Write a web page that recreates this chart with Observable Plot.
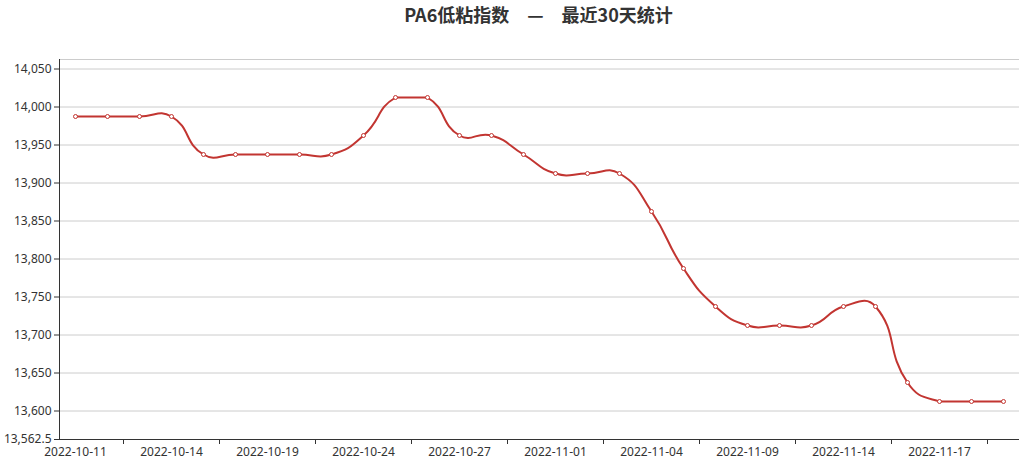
<!DOCTYPE html>
<html>
<head>
<meta charset="utf-8">
<script src="https://cdn.jsdelivr.net/npm/d3@7"></script>
<script src="https://cdn.jsdelivr.net/npm/@observablehq/plot@0.6"></script>
<style>
  html, body { margin: 0; padding: 0; background: #fff; }
  #wrap { position: relative; width: 1023px; height: 469px; }
  #title {
    position: absolute; top: 5px; left: 538.5px; transform: translateX(-50%);
    font-family: "Noto Sans CJK SC", "Noto Sans", sans-serif; font-weight: bold;
    font-size: 18px; line-height: 18px; color: #333; white-space: pre;
  }
</style>
</head>
<body>
<div id="wrap">
  <div id="chart"></div>
  <div id="title">PA6低粘指数　—　最近30天统计</div>
</div>
<script>
const dates = [
  "2022-10-11","2022-10-12","2022-10-13","2022-10-14","2022-10-17","2022-10-18",
  "2022-10-19","2022-10-20","2022-10-21","2022-10-24","2022-10-25","2022-10-26",
  "2022-10-27","2022-10-28","2022-10-31","2022-11-01","2022-11-02","2022-11-03",
  "2022-11-04","2022-11-07","2022-11-08","2022-11-09","2022-11-10","2022-11-11",
  "2022-11-14","2022-11-15","2022-11-16","2022-11-17","2022-11-18","2022-11-21"
];
const values = [
  13987.5, 13987.5, 13987.5, 13987.5, 13937.5, 13937.5,
  13937.5, 13937.5, 13937.5, 13962.5, 14012.5, 14012.5,
  13962.5, 13962.5, 13937.5, 13912.5, 13912.5, 13912.5,
  13862.5, 13787.5, 13737.5, 13712.5, 13712.5, 13712.5,
  13737.5, 13737.5, 13637.5, 13612.5, 13612.5, 13612.5
];
const yMin = 13562.5;
const yMax = 14062.5;
const yTickValues = [13562.5, 13600, 13650, 13700, 13750, 13800, 13850, 13900, 13950, 14000, 14050];
const gridValues = [13600, 13650, 13700, 13750, 13800, 13850, 13900, 13950, 14000, 14050, 14062.5];
const labelIndex = [0, 3, 6, 9, 12, 15, 18, 21, 24, 27];
const tickBoundaries = [1.5, 4.5, 7.5, 10.5, 13.5, 16.5, 19.5, 22.5, 25.5, 28.5];

const data = dates.map((d, i) => ({i, date: d, value: values[i]}));

// ECharts-4-like smoothing (smooth = 0.5, constrained to the points' bounding box)
function curveEcharts(context) {
  let pts;
  return {
    areaStart() {}, areaEnd() {},
    lineStart() { pts = []; },
    point(x, y) { pts.push([+x, +y]); },
    lineEnd() {
      const n = pts.length;
      if (!n) return;
      const smooth = 0.5;
      const minX = d3.min(pts, p => p[0]), maxX = d3.max(pts, p => p[0]);
      const minY = d3.min(pts, p => p[1]), maxY = d3.max(pts, p => p[1]);
      const clamp = c => [Math.max(minX, Math.min(maxX, c[0])), Math.max(minY, Math.min(maxY, c[1]))];
      context.moveTo(pts[0][0], pts[0][1]);
      let cp0 = pts[0].slice();
      for (let k = 1; k < n; k++) {
        const p = pts[k], prev = pts[k - 1], next = pts[k + 1];
        let cp1, v = [0, 0], ratio = 0.5;
        if (!next) {
          cp1 = p.slice();
        } else {
          v = [next[0] - prev[0], next[1] - prev[1]];
          const lp = Math.hypot(p[0] - prev[0], p[1] - prev[1]);
          const ln = Math.hypot(next[0] - p[0], next[1] - p[1]);
          ratio = ln / (ln + lp);
          cp1 = [p[0] - v[0] * smooth * (1 - ratio), p[1] - v[1] * smooth * (1 - ratio)];
        }
        cp0 = clamp(cp0);
        cp1 = clamp(cp1);
        context.bezierCurveTo(cp0[0], cp0[1], cp1[0], cp1[1], p[0], p[1]);
        cp0 = [p[0] + v[0] * smooth * ratio, p[1] + v[1] * smooth * ratio];
      }
    }
  };
}

const chart = Plot.plot({
  width: 1023,
  height: 469,
  marginLeft: 59,
  marginRight: 4,
  marginTop: 59,
  marginBottom: 30,
  style: {
    fontFamily: "'Noto Sans', 'Noto Sans CJK SC', sans-serif",
    fontSize: "12px",
    color: "#333",
    background: "#fff"
  },
  x: {type: "linear", domain: [-0.5, 29.5], axis: null},
  y: {domain: [yMin, yMax], axis: null},
  marks: [
    Plot.gridY({ticks: gridValues, stroke: "#ccc", strokeOpacity: 1}),
    Plot.axisY({ticks: yTickValues, tickSize: 5, tickPadding: 3, tickFormat: d3.format(","), label: null, stroke: "#333", fill: "#333"}),
    Plot.axisX({ticks: labelIndex, tickSize: 0, tickPadding: 8, tickFormat: i => dates[i], label: null, fill: "#333"}),
    Plot.axisX({ticks: tickBoundaries, tickSize: 5, tickFormat: () => "", label: null, stroke: "#333"}),
    Plot.ruleX([-0.5], {stroke: "#333"}),
    Plot.ruleY([yMin], {stroke: "#333"}),
    Plot.line(data, {x: "i", y: "value", stroke: "#c23531", strokeWidth: 2, curve: curveEcharts}),
    Plot.dot(data, {x: "i", y: "value", r: 2, fill: "#fff", stroke: "#c23531", strokeWidth: 1})
  ]
});
document.getElementById("chart").appendChild(chart);
</script>
</body>
</html>
